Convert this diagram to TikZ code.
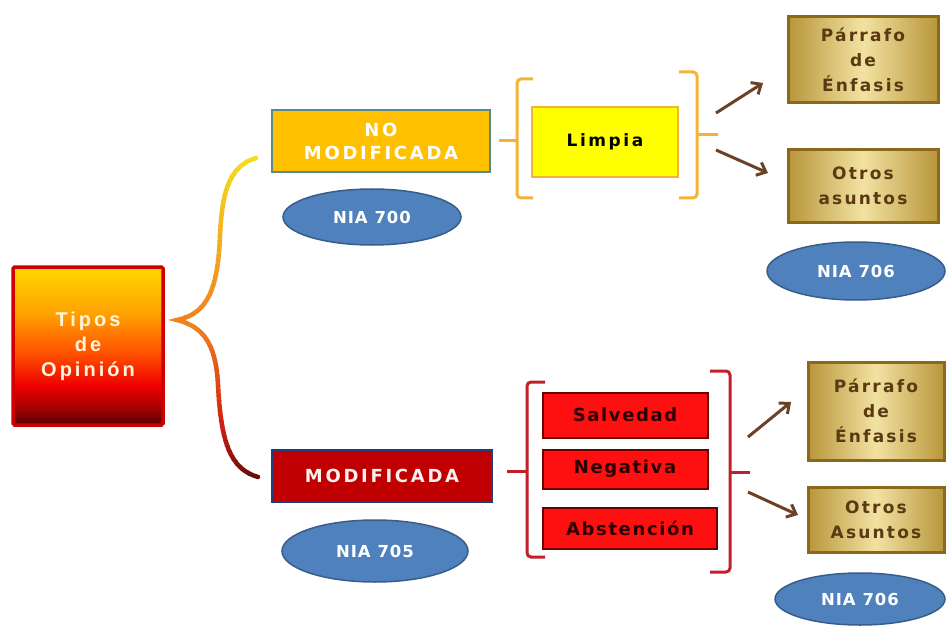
\documentclass[tikz,border=0pt]{standalone}
\usepackage{fontspec}
\setmainfont{Liberation Sans}
\newfontfamily\tiposfont{Liberation Sans}[LetterSpace=15]
\newfontfamily\lblfont{DejaVu Sans}[LetterSpace=15]
\newfontfamily\niafont{DejaVu Sans}[LetterSpace=6]
\newfontfamily\redfont{DejaVu Sans}[LetterSpace=9]
\newfontfamily\goldfont{DejaVu Sans}[LetterSpace=13]
\usetikzlibrary{shapes.geometric,arrows.meta}
\definecolor{tipY}{HTML}{FFD800}
\definecolor{tipO}{HTML}{FFA000}
\definecolor{tipO2}{HTML}{FF5000}
\definecolor{tipR}{HTML}{F00000}
\definecolor{tipR2}{HTML}{A00000}
\definecolor{tipD}{HTML}{500000}
\definecolor{tipBorder}{HTML}{D00000}
\definecolor{tipText}{HTML}{FFF4DC}
\definecolor{goldD}{HTML}{B8963A}
\definecolor{goldL}{HTML}{F2E2A2}
\definecolor{goldBorder}{HTML}{8A6A1A}
\definecolor{goldText}{HTML}{5A3A12}
\definecolor{nomodFill}{HTML}{FFC000}
\definecolor{nomodBorder}{HTML}{5B8A8A}
\definecolor{modFill}{HTML}{C00000}
\definecolor{modBorder}{HTML}{1F3F7F}
\definecolor{modText}{HTML}{FFF0F0}
\definecolor{ellFill}{HTML}{4F81BD}
\definecolor{ellBorder}{HTML}{385D8A}
\definecolor{limpFill}{HTML}{FFFF00}
\definecolor{goldBr}{HTML}{F5B335}
\definecolor{redFill}{HTML}{FF1010}
\definecolor{redBorder}{HTML}{6A0000}
\definecolor{redText}{HTML}{2A0000}
\definecolor{redBr}{HTML}{C0202A}
\definecolor{arrowBrown}{HTML}{6B4226}
\definecolor{brY}{HTML}{F5E020}
\definecolor{brO}{HTML}{F08020}
\definecolor{brR}{HTML}{D02010}
\definecolor{brD}{HTML}{5A0A0A}
\pgfdeclareverticalshading{tiposshade}{100bp}{color(0bp)=(tipD); color(25bp)=(tipD); color(30bp)=(tipR2); color(37.5bp)=(tipR); color(47.5bp)=(tipO2); color(60bp)=(tipO); color(75bp)=(tipY); color(100bp)=(tipY)}
\pgfdeclarehorizontalshading{goldshade}{100bp}{color(0bp)=(goldD); color(25bp)=(goldD); color(50bp)=(goldL); color(75bp)=(goldD); color(100bp)=(goldD)}
\tikzset{
  tipos/.style={draw=tipBorder, line width=3.5pt, rounded corners=1.5pt, shading=tiposshade, minimum width=150pt, minimum height=158pt, text=tipText, align=center, font=\tiposfont\bfseries\fontsize{20}{25}\selectfont},
  nomodbox/.style={draw=nomodBorder, line width=1.5pt, fill=nomodFill, text=white, align=center, font=\lblfont\bfseries\fontsize{18}{23}\selectfont},
  modbox/.style={draw=modBorder, line width=1.5pt, fill=modFill, text=modText, align=center, font=\lblfont\bfseries\fontsize{18}{23}\selectfont},
  nia/.style={ellipse, draw=ellBorder, line width=1.5pt, fill=ellFill, text=white, font=\niafont\bfseries\fontsize{16.5}{20}\selectfont, inner sep=0pt},
  limpbox/.style={draw=goldBr, line width=1.5pt, fill=limpFill, text=black, font=\lblfont\bfseries\fontsize{17}{22}\selectfont},
  redbox/.style={draw=redBorder, line width=2pt, fill=redFill, text=redText, font=\redfont\bfseries\fontsize{18}{22}\selectfont},
  goldbox/.style={draw=goldBorder, line width=3pt, shading=goldshade, text=goldText, align=center, font=\goldfont\bfseries\fontsize{17}{25}\selectfont},
  goldbr/.style={draw=goldBr, line width=3pt, rounded corners=4pt},
  redbr/.style={draw=redBr, line width=3pt, rounded corners=4pt},
  arr/.style={draw=arrowBrown, line width=3pt, -{Straight Barb[length=8pt,width=14pt,line width=3pt]}},
  bracestroke/.style={line width=4.5pt, line cap=round},
  bracepath/.style={insert path={(256,158) .. controls (228,166) and (222,195) .. (220,235) .. controls (218,292) and (206,314) .. (177,320) .. controls (205,327) and (216,346) .. (218,385) .. controls (221,442) and (230,469) .. (258,477)}}
}
\begin{document}
\begin{tikzpicture}[x=1pt,y=-1pt]
\useasboundingbox (0,0) rectangle (947,639);
\fill[white] (0,0) rectangle (947,639);

% gradient brace (colour changes from top to bottom)
\foreach \yy in {150,155,...,320} {
  \pgfmathtruncatemacro\pp{min(100,(\yy-150)/170*100)}
  \begin{scope}
    \clip (150,\yy) rectangle (300,\yy+5.5);
    \draw[bracestroke, draw=brO!\pp!brY, bracepath];
  \end{scope}
}
\foreach \yy in {325,330,...,420} {
  \pgfmathtruncatemacro\pp{min(100,(\yy-325)/95*100)}
  \begin{scope}
    \clip (150,\yy) rectangle (300,\yy+5.5);
    \draw[bracestroke, draw=brR!\pp!brO, bracepath];
  \end{scope}
}
\foreach \yy in {425,430,...,485} {
  \pgfmathtruncatemacro\pp{min(100,(\yy-425)/55*100)}
  \begin{scope}
    \clip (150,\yy) rectangle (300,\yy+5.5);
    \draw[bracestroke, draw=brD!\pp!brR, bracepath];
  \end{scope}
}

\node[tipos] (tipos) at (88,346) {Tipos\\de\\Opinión};

% upper branch
\node[nomodbox, minimum width=218pt, minimum height=62pt] (nomod) at (381,141) {NO\\MODIFICADA};
\node[nia, minimum width=178pt, minimum height=56pt] (nia700) at (372,217) {NIA 700};
\node[limpbox, minimum width=146pt, minimum height=70pt] (limpia) at (605,142) {Limpia};
\node[goldbox, minimum width=150pt, minimum height=86pt] (par1) at (863,60) {Párrafo\\de\\Énfasis};
\node[goldbox, minimum width=150pt, minimum height=72pt] (otros1) at (863,186) {Otros\\asuntos};
\node[nia, minimum width=178pt, minimum height=58pt] (nia706a) at (856,271) {NIA 706};

\coordinate (lb1) at (517,141);
\coordinate (rb1) at (697,135);
\coordinate (rb1t) at (718,135);
\draw[goldbr] (533,79) -- (517,79) -- (517,198) -- (533,198);
\draw[goldbr, rounded corners=0pt, shorten <=8pt] (nomod.east) -- (lb1);
\draw[goldbr] (679,72) -- (697,72) -- (697,198) -- (679,198);
\draw[goldbr, rounded corners=0pt] (rb1) -- (rb1t);

\coordinate (a1s) at (716,113);
\coordinate (a1e) at (763,83);
\coordinate (a2s) at (716,150);
\coordinate (a2e) at (768,173);
\draw[arr] (a1s) -- (a1e);
\draw[arr] (a2s) -- (a2e);

% lower branch
\node[modbox, minimum width=220pt, minimum height=52pt] (mod) at (382,476) {MODIFICADA};
\node[nia, minimum width=186pt, minimum height=62pt] (nia705) at (375,551) {NIA 705};
\node[redbox, minimum width=165pt, minimum height=45pt] (salv) at (625,415) {Salvedad};
\node[redbox, minimum width=165pt, minimum height=39pt] (neg) at (625,469) {Negativa};
\node[redbox, minimum width=174pt, minimum height=41pt] (abs) at (630,528) {Abstención};
\node[goldbox, minimum width=136pt, minimum height=98pt] (par2) at (876,411) {Párrafo\\de\\Énfasis};
\node[goldbox, minimum width=136pt, minimum height=65pt] (otros2) at (876,520) {Otros\\Asuntos};
\node[nia, minimum width=170pt, minimum height=52pt] (nia706b) at (860,599) {NIA 706};

\coordinate (lb2s) at (507,471);
\coordinate (lb2) at (527,471);
\coordinate (rb2) at (730,472);
\coordinate (rb2t) at (750,472);
\draw[redbr] (545,382) -- (527,382) -- (527,557) -- (545,557);
\draw[redbr, rounded corners=0pt] (lb2s) -- (lb2);
\draw[redbr] (710,371) -- (730,371) -- (730,572) -- (710,572);
\draw[redbr, rounded corners=0pt] (rb2) -- (rb2t);

\coordinate (b1s) at (748,437);
\coordinate (b1e) at (791,402);
\coordinate (b2s) at (748,492);
\coordinate (b2e) at (798,515);
\draw[arr] (b1s) -- (b1e);
\draw[arr] (b2s) -- (b2e);
\end{tikzpicture}
\end{document}
